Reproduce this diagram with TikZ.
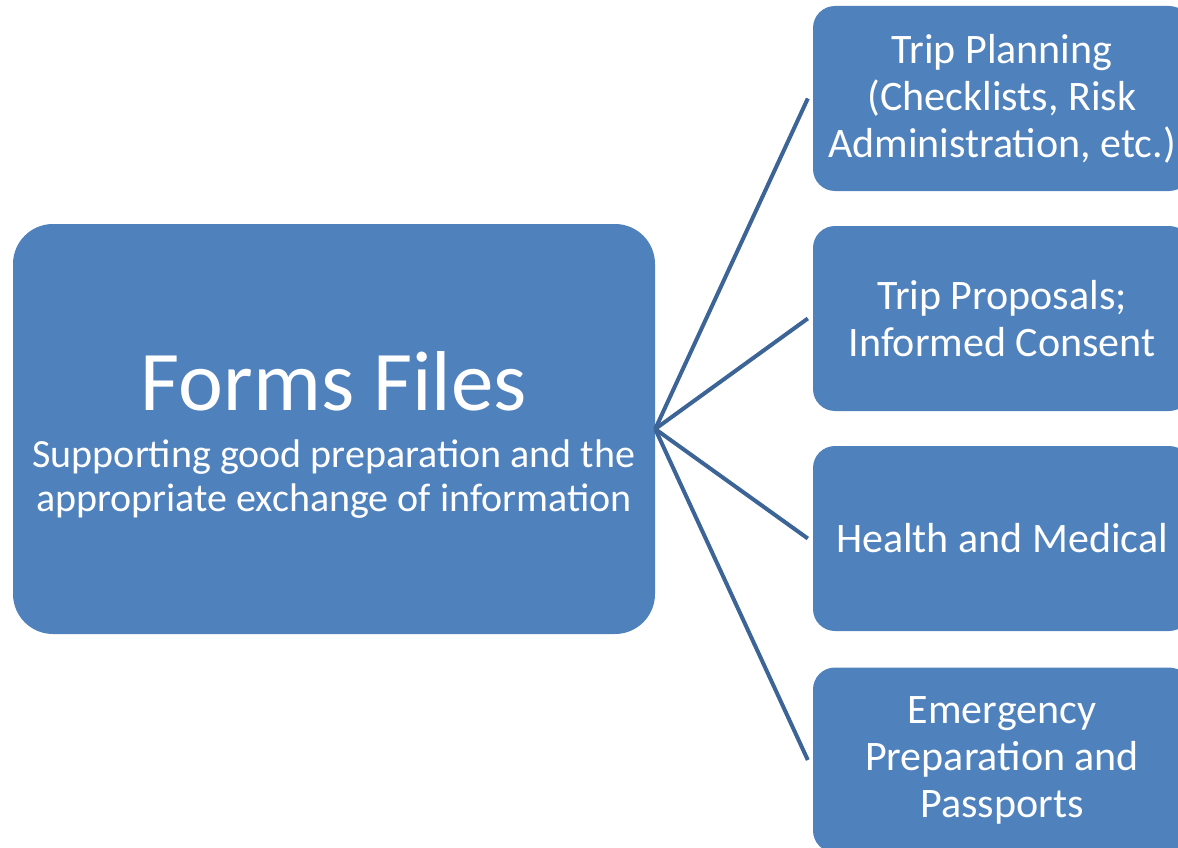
\documentclass[tikz,border=0pt]{standalone}
\usepackage{fontspec}
\setmainfont{Carlito}
\definecolor{boxblue}{HTML}{4F81BD}
\definecolor{linkblue}{HTML}{3C6497}
\begin{document}
\begin{tikzpicture}[x=1pt,y=-1pt,
	hub/.style={fill=boxblue,rounded corners=40pt,minimum width=642pt,minimum height=410pt,text=white,align=center,inner sep=0pt,font=\fontsize{40}{44}\selectfont},
	leaf/.style={fill=boxblue,rounded corners=22pt,minimum width=378pt,minimum height=185pt,text=white,align=center,inner sep=0pt,font=\fontsize{42}{47}\selectfont},
	link/.style={draw=linkblue,line width=4pt}]
				\useasboundingbox (0,0) rectangle (1178,848);
				\clip (0,0) rectangle (1178,848);
				\node[hub] (forms) at (334,429) {\rule{0pt}{70pt}{\fontsize{85}{92}\selectfont Forms Files}\\[13pt]
					Supporting good preparation and the\\ appropriate exchange of information};
				\node[leaf] (plan) at (1002,98.5) {Trip Planning\\(Checklists, Risk\\Administration, etc.)};
				\node[leaf] (prop) at (1002,318.5) {Trip Proposals;\\Informed Consent};
				\node[leaf] (health) at (1002,538.5) {Health and Medical};
				\node[leaf] (emerg) at (1002,760) {Emergency\\Preparation and\\Passports};
				\foreach \t in {plan,prop,health,emerg}
					\draw[link] (forms.east)--([xshift=-5pt]\t.west);
			\end{tikzpicture}
\end{document}
